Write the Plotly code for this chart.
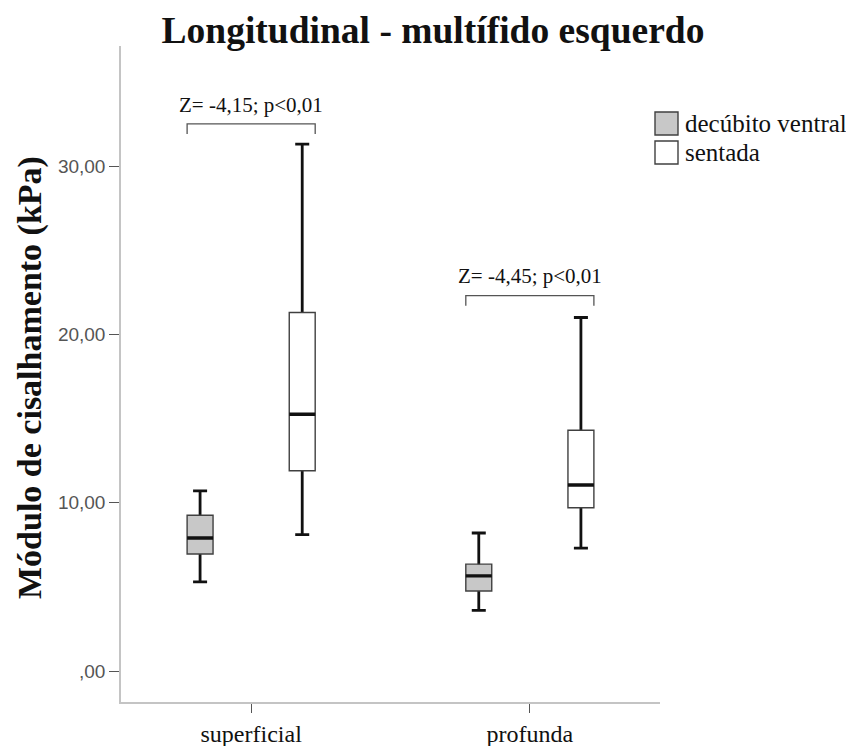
import plotly.graph_objects as go

# ---------------- data ----------------
categories = ["superficial", "profunda"]
series_names = ["decúbito ventral", "sentada"]

dv_lower = [5.3, 3.6]
dv_q1 = [6.95, 4.75]
dv_median = [7.9, 5.65]
dv_q3 = [9.25, 6.35]
dv_upper = [10.7, 8.2]

st_lower = [8.1, 7.3]
st_q1 = [11.9, 9.7]
st_median = [15.25, 11.05]
st_q3 = [21.3, 14.3]
st_upper = [31.3, 21.0]

ytick_vals = [0, 10, 20, 30]
ytick_text = [",00", "10,00", "20,00", "30,00"]

z_labels = ["Z= -4,15; p<0,01", "Z= -4,45; p<0,01"]
bracket_y = [32.5, 22.3]

# ---------------- style ----------------
SERIF = "Liberation Serif, Times New Roman, serif"
SANS = "Liberation Sans, Arial, sans-serif"
fills = ["#c8c8c8", "#ffffff"]
BOXGAP = 0.267
BOXGROUPGAP = 0.746
offset = 0.25 * (1 - BOXGAP)
halfw = 0.5 * (1 - BOXGAP) * (1 - BOXGROUPGAP) / 2

PAGE_PAD = 8  # default body margin of the html page
W, H = 854 - PAGE_PAD, 746 - PAGE_PAD
# plot-area edges in page pixels, converted to figure pixels
L, R, T, B = 121 - PAGE_PAD, 660 - PAGE_PAD, 46 - PAGE_PAD, 702 - PAGE_PAD


def px(xp):
    return (xp - PAGE_PAD - L) / (R - L)


def py(yp):
    return (B - (yp - PAGE_PAD)) / (B - T)


stats = [
    dict(lo=dv_lower, q1=dv_q1, med=dv_median, q3=dv_q3, hi=dv_upper),
    dict(lo=st_lower, q1=st_q1, med=st_median, q3=st_q3, hi=st_upper),
]

fig = go.Figure()

# layer 1: whiskers (degenerate box at the median, whiskers to fences)
for k, s in enumerate(stats):
    fig.add_trace(go.Box(
        x=categories, q1=s["med"], median=s["med"], q3=s["med"],
        lowerfence=s["lo"], upperfence=s["hi"],
        name=series_names[k], offsetgroup=str(k), showlegend=False,
        line=dict(color="#111111", width=2.8), fillcolor="rgba(0,0,0,0)",
        whiskerwidth=0.54, boxpoints=False, hoverinfo="skip",
    ))

# layer 2: filled boxes with thin outline
for k, s in enumerate(stats):
    fig.add_trace(go.Box(
        x=categories, q1=s["q1"], median=s["med"], q3=s["q3"],
        lowerfence=s["q1"], upperfence=s["q3"],
        name=series_names[k], offsetgroup=str(k), showlegend=False,
        line=dict(color="#404040", width=1.4), fillcolor=fills[k],
        whiskerwidth=0, boxpoints=False,
    ))

# layer 3: thick median line
for k, s in enumerate(stats):
    fig.add_trace(go.Box(
        x=categories, q1=s["med"], median=s["med"], q3=s["med"],
        lowerfence=s["med"], upperfence=s["med"],
        name=series_names[k], offsetgroup=str(k), showlegend=False,
        line=dict(color="#111111", width=3.4), fillcolor="rgba(0,0,0,0)",
        whiskerwidth=0, boxpoints=False, hoverinfo="skip",
    ))

# significance brackets
shapes = []
annotations = []
edge = offset + halfw
for i, (lab, by) in enumerate(zip(z_labels, bracket_y)):
    x0, x1 = i - edge, i + edge
    shapes.append(dict(type="path", xref="x", yref="y",
                       path=f"M {x0},{by - 0.6} L {x0},{by} L {x1},{by} L {x1},{by - 0.6}",
                       line=dict(color="#555555", width=1.3)))
    annotations.append(dict(x=i, y=by + 1.15, xref="x", yref="y", text=lab,
                            showarrow=False, xanchor="center", yanchor="middle",
                            font=dict(family=SERIF, size=21, color="#111111")))

# manual legend
leg_rows = [(112, 135), (141, 164)]
for k, (t, b) in enumerate(leg_rows):
    shapes.append(dict(type="rect", xref="paper", yref="paper",
                       x0=px(655), x1=px(678), y0=py(b), y1=py(t),
                       fillcolor=fills[k], line=dict(color="#404040", width=1.4)))
    annotations.append(dict(x=px(683), y=py((t + b) / 2), xref="paper", yref="paper",
                            text=series_names[k], showarrow=False,
                            xanchor="left", yanchor="middle",
                            font=dict(family=SERIF, size=25, color="#111111")))

# y-axis title
annotations.append(dict(x=px(30), y=py(378), xref="paper", yref="paper",
                        text="<b>Módulo de cisalhamento (kPa)</b>", textangle=-90,
                        showarrow=False, xanchor="center", yanchor="middle",
                        font=dict(family=SERIF, size=34, color="#111111")))

fig.update_layout(
    width=W, height=H,
    margin=dict(l=L, r=W - R, t=T, b=H - B, autoexpand=False),
    paper_bgcolor="white", plot_bgcolor="white",
    boxmode="group", boxgap=BOXGAP, boxgroupgap=BOXGROUPGAP,
    showlegend=False,
    title=dict(text="<b>Longitudinal - multífido esquerdo</b>",
               x=px(433), xref="paper", xanchor="center",
               y=1 - (29.5 - PAGE_PAD) / H, yref="container", yanchor="middle",
               font=dict(family=SERIF, size=37.5, color="#111111")),
    xaxis=dict(type="category", range=[-0.467, 1.467],
               showline=True, linecolor="#c4c4c4", linewidth=1.5,
               ticks="outside", ticklen=9, tickcolor="#555555", tickwidth=1,
               showgrid=False, zeroline=False,
               tickfont=dict(family=SERIF, size=24, color="#111111")),
    yaxis=dict(range=[-1.84, 37.13], tickvals=ytick_vals, ticktext=ytick_text,
               showline=True, linecolor="#c4c4c4", linewidth=1.5,
               ticks="outside", ticklen=10, tickcolor="#555555", tickwidth=1.2,
               showgrid=False, zeroline=False,
               tickfont=dict(family=SANS, size=19, color="#555555")),
    shapes=shapes, annotations=annotations,
)

fig.write_html("out.html")
